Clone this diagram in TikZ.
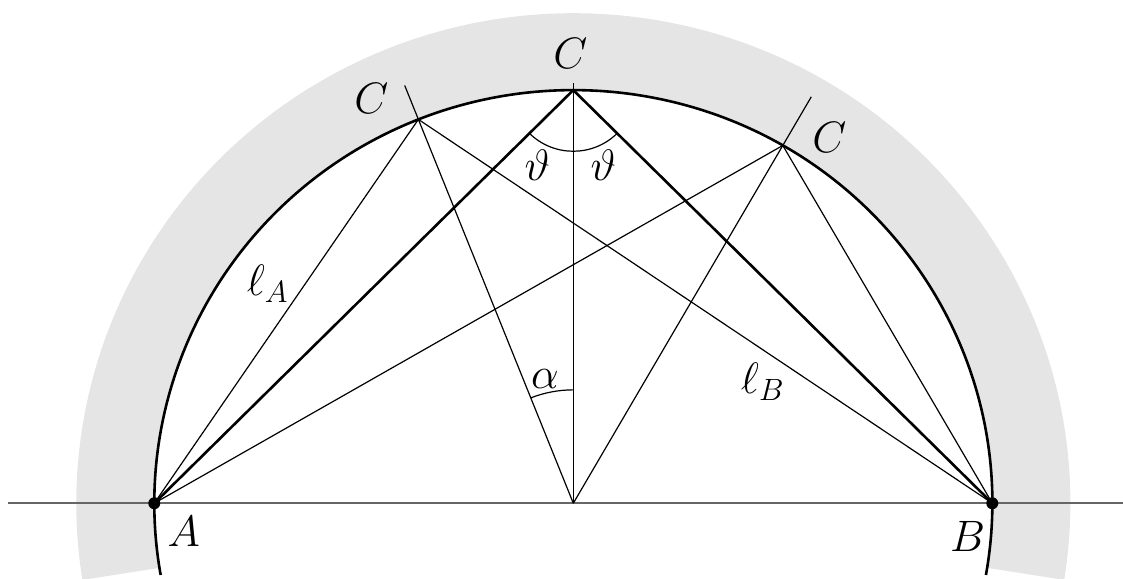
\RequirePackage{fix-cm}
\documentclass[tikz,border=0pt]{standalone}
\usetikzlibrary{calc}
\tikzset{
  lbl/.style={font=\fontsize{44}{50}\selectfont, inner sep=0pt},
  thinline/.style={line width=1.2pt, black},
  thickline/.style={line width=2.6pt, black},
  axisline/.style={line width=1.6pt, black!60},
  band/.style={fill=black!10},
}
\begin{document}
\begin{tikzpicture}[x=1pt,y=0.986pt]
\useasboundingbox (-573.3,-76.8) rectangle (549.7,510.4);
% points
\coordinate (O) at (0,0);
\coordinate (A) at (180:419);
\coordinate (B) at (0:419);
\coordinate (C0) at (90:419);
\coordinate (C1) at (111.7:419);
\coordinate (C2) at (60:419);
\coordinate (E0) at (90:426);
\coordinate (E1) at (111.7:456);
\coordinate (E2) at (60:476);
\coordinate (L) at (-565.3,0);
\coordinate (R) at (549.7,0);
% gray band
\fill[band] (-9:497) arc[start angle=-9,end angle=189,radius=497]
  -- (189:419) arc[start angle=189,end angle=-9,radius=419] -- cycle;
% horizontal axis
\draw[axisline] (L) -- (R);
% circle arc
\draw[thickline] (-10:419) arc[start angle=-10,end angle=190,radius=419];
% thick chords
\draw[thickline, line join=miter] (A) -- (C0) -- (B);
% thin lines
\draw[thinline] (A) -- (C1) -- (B);
\draw[thinline] (A) -- (C2) -- (B);
\draw[thinline] (O) -- (E0);
\draw[thinline] (O) -- (E1);
\draw[thinline] (O) -- (E2);
% angle arcs
\draw[thinline] ($(C0)+(225:62)$) arc[start angle=225,end angle=315,radius=62];
\draw[thinline] ($(O)+(90:115)$) arc[start angle=90,end angle=111.7,radius=115];
% dots
\fill (A) circle[radius=6pt];
\fill (B) circle[radius=6pt];
% labels
\node[lbl] (lC0) at (-3,456) {$C$};
\node[lbl] (lC1) at (-202,411) {$C$};
\node[lbl] (lC2) at (256,371.3) {$C$};
\node[lbl] (lA) at (-389.5,-28.8) {$A$};
\node[lbl] (lB) at (394.2,-34) {$B$};
\node[lbl] (lt1) at (-36.1,343.1) {$\vartheta$};
\node[lbl] (lt2) at (30,343.1) {$\vartheta$};
\node[lbl] (lal) at (-28.3,125.8) {$\alpha$};
\node[lbl] (llA) at (-305.8,222.4) {$\ell_A$};
\node[lbl] (llB) at (189.2,123.3) {$\ell_B$};
\end{tikzpicture}
\end{document}
